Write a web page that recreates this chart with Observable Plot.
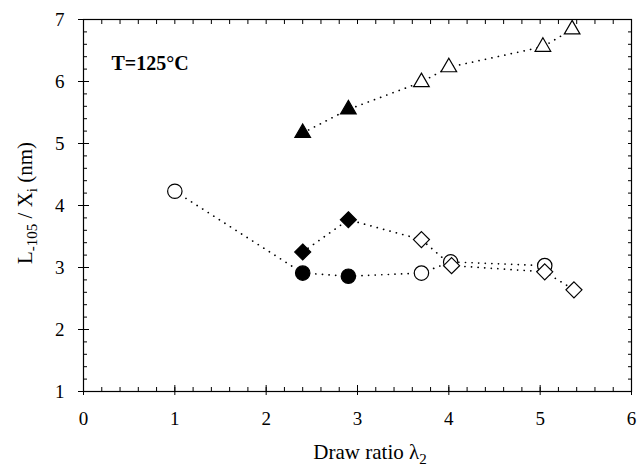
<!DOCTYPE html>
<html><head><meta charset="utf-8">
<script src="https://cdn.jsdelivr.net/npm/d3@7"></script>
<script src="https://cdn.jsdelivr.net/npm/@observablehq/plot@0.6"></script>
<style>
body{margin:0;background:#fff}
svg, svg text, svg tspan{font-family:'Liberation Serif','Times New Roman',serif !important}
</style>
</head><body><div id="chart"></div>
<script>
// Triangles (filled = first two)
const triX = [2.40, 2.90, 3.70, 4.00, 5.03, 5.35];
const triY = [5.17, 5.55, 5.99, 6.23, 6.56, 6.84];
const triFilled = [true, true, false, false, false, false];
// Circles
const cirX = [1.00, 2.40, 2.90, 3.70, 4.02, 5.05];
const cirY = [4.23, 2.91, 2.86, 2.91, 3.09, 3.03];
const cirFilled = [false, true, true, false, false, false];
// Diamonds
const diaX = [2.40, 2.90, 3.70, 4.03, 5.05, 5.37];
const diaY = [3.25, 3.77, 3.45, 3.03, 2.93, 2.64];
const diaFilled = [true, true, false, false, false, false];

const xTicks = [0, 1, 2, 3, 4, 5, 6];
const yTicks = [1, 2, 3, 4, 5, 6, 7];
const xMinor = d3.range(0, 6.0001, 0.2);
const yMinor = d3.range(1, 7.0001, 0.2);
const annotation = "T=125°C";

const table = (xs, ys, fs) => xs.map((x, i) => ({x, y: ys[i], fill: fs[i] ? "black" : "white"}));
const tri = table(triX, triY, triFilled);
const cir = table(cirX, cirY, cirFilled);
const dia = table(diaX, diaY, diaFilled);

const dotted = {x: "x", y: "y", stroke: "black", strokeWidth: 1.7, strokeDasharray: "0.1,6.5", strokeLinecap: "round"};
const marker = (sym, r) => ({x: "x", y: "y", symbol: sym, r, fill: "fill", stroke: "black", strokeWidth: 1.2});
const serif = "'Liberation Serif', 'Times New Roman', serif";

const chart = Plot.plot({
  width: 638,
  height: 472,
  marginLeft: 83,
  marginRight: 7,
  marginTop: 19,
  marginBottom: 81,
  style: {fontFamily: serif, fontSize: "18px", background: "white", color: "black"},
  x: {domain: [0, 6]},
  y: {domain: [1, 7]},
  color: {type: "identity"},
  marks: [
    Plot.frame({stroke: "black", strokeWidth: 1.2}),
    // minor inward ticks on all sides
    Plot.axisX(xMinor, {anchor: "bottom", tickSize: -4, text: null, label: null}),
    Plot.axisX(xMinor, {anchor: "top", tickSize: -4, text: null, label: null}),
    Plot.axisY(yMinor, {anchor: "left", tickSize: -4, text: null, label: null}),
    Plot.axisY(yMinor, {anchor: "right", tickSize: -4, text: null, label: null}),
    // major ticks crossing the axis, with labels
    Plot.axisX(xTicks, {anchor: "bottom", tickSize: -6, text: null, label: null}),
    Plot.axisY(yTicks, {anchor: "left", tickSize: -6, text: null, label: null}),
    Plot.axisX(xTicks, {anchor: "bottom", tickSize: 4, tickPadding: 16, label: null, fontSize: 19, tickFormat: d3.format("d"), fontFamily: serif}),
    Plot.axisY(yTicks, {anchor: "left", tickSize: 5, tickPadding: 14, label: null, fontSize: 19, tickFormat: d3.format("d"), fontFamily: serif}),
    Plot.line(tri, dotted),
    Plot.line(cir, dotted),
    Plot.line(dia, dotted),
    Plot.dot(cir, marker("circle", 7.2)),
    Plot.dot(dia, marker("diamond2", 7.2)),
    Plot.dot(tri, marker("triangle", 5.8)),
    Plot.text([annotation], {frameAnchor: "top-left", dx: 28, dy: 44, textAnchor: "start", lineAnchor: "middle", fontWeight: "bold", fontSize: 20, fontFamily: serif})
  ]
});

const svg = d3.select(chart);
// x axis title: Draw ratio λ2
const xt = svg.append("text")
  .attr("x", 370).attr("y", 459)
  .attr("text-anchor", "middle")
  .attr("font-size", 21)
  .attr("fill", "black");
xt.append("tspan").text("Draw ratio λ");
xt.append("tspan").attr("font-size", 15).attr("dy", 5).text("2");

// y axis title: L-105 / Xi (nm)
const yt = svg.append("text")
  .attr("transform", "translate(32,203) rotate(-90)")
  .attr("text-anchor", "middle")
  .attr("font-size", 21)
  .attr("fill", "black");
yt.append("tspan").text("L");
yt.append("tspan").attr("font-size", 15).attr("dy", 5).text("-105");
yt.append("tspan").attr("dy", -5).text(" / X");
yt.append("tspan").attr("font-size", 15).attr("dy", 5).text("i");
yt.append("tspan").attr("dy", -5).text(" (nm)");

svg.selectAll("text").attr("font-family", "Liberation Serif").style("font-family", serif);

document.getElementById("chart").appendChild(chart);
</script>
</body></html>
